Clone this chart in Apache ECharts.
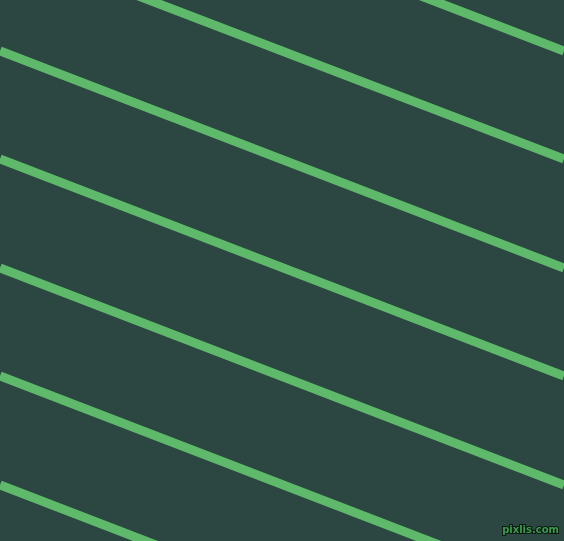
<!DOCTYPE html>
<html>
<head>
<meta charset="utf-8">
<script src="https://cdn.jsdelivr.net/npm/echarts@6.0.0/dist/echarts.min.js"></script>
<style>
html, body { margin: 0; padding: 0; background: #2c4642; }
#main { width: 564px; height: 541px; }
</style>
</head>
<body>
<div id="main"></div>
<script>
// stripe centre lines: y where each crosses the left edge (x=0) and right edge (x=564)
const leftY = [-166, -57, 51, 159, 268, 376, 485];
const rightY = [51, 159, 268, 376, 485, 593, 702];
const edgeX = [0, 564];

const bg = '#2c4642';
const stripe = '#5eb96a';

const chart = echarts.init(document.getElementById('main'));
chart.setOption({
	backgroundColor: bg,
	animation: false,
	grid: { left: 0, right: 0, top: 0, bottom: 0 },
	xAxis: { type: 'value', min: 0, max: 564, show: false },
	yAxis: { type: 'value', min: 0, max: 541, inverse: true, show: false },
	series: leftY.map((y0, i) => ({
		type: 'line',
		name: 'stripe' + i,
		data: [[edgeX[0], y0], [edgeX[1], rightY[i]]],
		symbol: 'none',
		clip: true,
		lineStyle: { color: stripe, width: 9, cap: 'butt' },
	})),
	graphic: [{
		type: 'text',
		right: 4,
		bottom: 5,
		style: {
			text: 'pixlis.com',
			fill: '#3f9a50',
			stroke: '#0a1a10',
			lineWidth: 2,
			font: 'bold 10px "DejaVu Sans"',
		},
	}],
});
</script>
</body>
</html>
